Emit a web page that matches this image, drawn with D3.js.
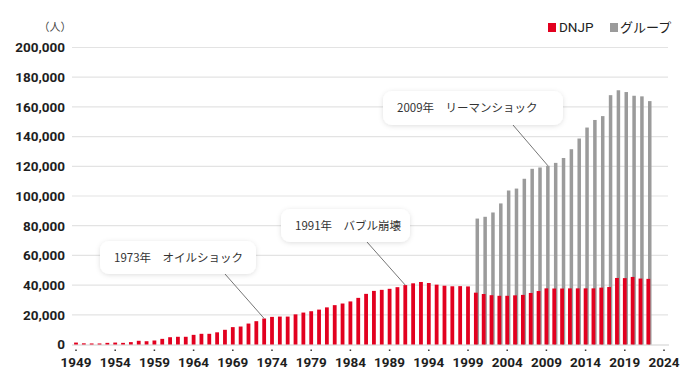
<!DOCTYPE html>
<html><head><meta charset="utf-8">
<script src="https://cdn.jsdelivr.net/npm/d3@7"></script>
<style>
html,body{margin:0;padding:0;background:#fff;}
svg{display:block;}
</style></head>
<body>
<svg id="c" width="690" height="389"></svg>
<script>
// ---- data ----
const years = d3.range(1949, 2023);
const dnjp = [1300,800,700,700,1100,1300,1100,1600,2500,2200,2700,3800,4900,5200,5200,6500,7200,7200,8200,9900,
  11700,12100,14100,15700,17500,18600,18800,18800,20300,21500,22400,23500,25000,26500,27600,29000,31400,34100,36100,36800,
  37500,38600,40000,41200,42100,41400,40300,39600,39200,39300,39100,34900,34000,33200,32800,32800,33100,33400,34700,36000,
  37800,37700,37700,37800,37800,37800,37800,38300,38700,44800,44700,45500,44400,44200];
const groupYears = d3.range(2000, 2023);
const groupTotal = [84800,86000,88900,95000,103700,105000,111600,118300,119200,120300,122300,125600,131500,138700,146100,
  151200,153800,167900,171200,170000,167500,167100,163900];
const yTicks = [0,20000,40000,60000,80000,100000,120000,140000,160000,180000,200000];
const xTicks = d3.range(1949, 2025, 5);
const legendLabels = ["DNJP", "グループ"];
const events = [
  {year:1973, label:"1973年　オイルショック", series:"dnjp"},
  {year:1991, label:"1991年　バブル崩壊", series:"dnjp"},
  {year:2009, label:"2009年　リーマンショック", series:"group"}
];

// ---- layout ----
const RED = "#e2001f", GRAY = "#9b9b9b";
const svg = d3.select("#c");
const x = d3.scaleLinear().domain([1949, 2024]).range([76, 664]);
const y = d3.scaleLinear().domain([0, 200000]).range([344.5, 47.5]);
const font = "Roboto, 'Noto Sans', sans-serif";
const jfont = "'Noto Sans CJK JP', 'Noto Sans', sans-serif";

const defs = svg.append("defs");
const f = defs.append("filter").attr("id","sh").attr("x","-20%").attr("y","-40%").attr("width","140%").attr("height","180%");
f.append("feDropShadow").attr("dx",0).attr("dy",1).attr("stdDeviation",2.5).attr("flood-color","#000").attr("flood-opacity",0.13);

// grid
svg.append("g").selectAll("line").data(yTicks.slice(1)).join("line")
  .attr("x1",72).attr("x2",668).attr("y1",d=>y(d)).attr("y2",d=>y(d))
  .attr("stroke","#e3e3e3").attr("stroke-width",1.2);
svg.append("line").attr("x1",72).attr("x2",669).attr("y1",y(0)+0.5).attr("y2",y(0)+0.5)
  .attr("stroke","#cfcfcf").attr("stroke-width",1.2);

// y labels
svg.append("g").selectAll("text").data(yTicks).join("text")
  .attr("x",65).attr("y",d=>y(d)).attr("dy","0.36em").attr("text-anchor","end")
  .attr("font-family",font).attr("font-weight",700).attr("font-size",13.5).attr("fill","#1e1e1e")
  .text(d=>d3.format(",")(d));
svg.append("text").attr("x",55).attr("y",31).attr("text-anchor","middle")
  .attr("font-family",jfont).attr("font-size",11).attr("fill","#444").text("（人）");

// x ticks (dots) and labels
svg.append("g").selectAll("rect").data(xTicks).join("rect")
  .attr("x",d=>x(d)-0.75).attr("y",349.5).attr("width",1.5).attr("height",1.5).attr("fill","#333");
svg.append("g").selectAll("text").data(xTicks).join("text")
  .attr("x",d=>x(d)).attr("y",367).attr("text-anchor","middle")
  .attr("font-family",font).attr("font-weight",700).attr("font-size",13.5).attr("fill","#1e1e1e")
  .text(d=>d);

// group bars (behind)
const bw = 3.8;
svg.append("g").selectAll("rect").data(groupYears.map((yr,i)=>({yr,v:groupTotal[i]}))).join("rect")
  .attr("x",d=>x(d.yr)-bw/2+1.6).attr("width",bw-0.3)
  .attr("y",d=>y(d.v)).attr("height",d=>y(0)-y(d.v)).attr("fill",GRAY);
// dnjp bars
svg.append("g").selectAll("rect").data(years.map((yr,i)=>({yr,v:dnjp[i]}))).join("rect")
  .attr("x",d=>x(d.yr)-bw/2).attr("width",bw)
  .attr("y",d=>y(d.v)).attr("height",d=>y(0)-y(d.v)).attr("fill",RED);

// legend
const lg = svg.append("g");
lg.append("rect").attr("x",548).attr("y",23).attr("width",8).attr("height",9).attr("fill",RED);
lg.append("text").attr("x",559).attr("y",32).attr("font-family",font).attr("font-weight",400).attr("font-size",13.5).attr("fill","#222").text(legendLabels[0]);
lg.append("rect").attr("x",610).attr("y",23).attr("width",8).attr("height",9).attr("fill",GRAY);
lg.append("text").attr("x",620).attr("y",32).attr("font-family",jfont).attr("font-weight",400).attr("font-size",13).attr("fill","#222").text(legendLabels[1]);

// callouts
const boxes = [
  {x:100, y:241, w:156, h:33, ax:225},
  {x:281, y:209, w:129, h:33, ax:367},
  {x:383, y:91, w:180, h:34, ax:513}
];
events.forEach((e,i)=>{
  const b = boxes[i];
  const idx = e.series==="dnjp" ? years.indexOf(e.year) : groupYears.indexOf(e.year);
  const v = e.series==="dnjp" ? dnjp[idx] : groupTotal[idx];
  const tx = x(e.year) + (e.series==="dnjp" ? 0 : 1.6);
  svg.append("line").attr("x1",b.ax).attr("y1",b.y+b.h).attr("x2",tx).attr("y2",y(v))
    .attr("stroke","#666").attr("stroke-width",0.9);
  svg.append("rect").attr("x",b.x).attr("y",b.y).attr("width",b.w).attr("height",b.h)
    .attr("rx",9).attr("fill","#fff").attr("filter","url(#sh)");
  svg.append("text").attr("x",b.x+14).attr("y",b.y+b.h/2).attr("dy","0.35em")
    .attr("font-family",jfont).attr("font-size",11.5).attr("fill","#333").text(e.label);
});
</script>
</body></html>
